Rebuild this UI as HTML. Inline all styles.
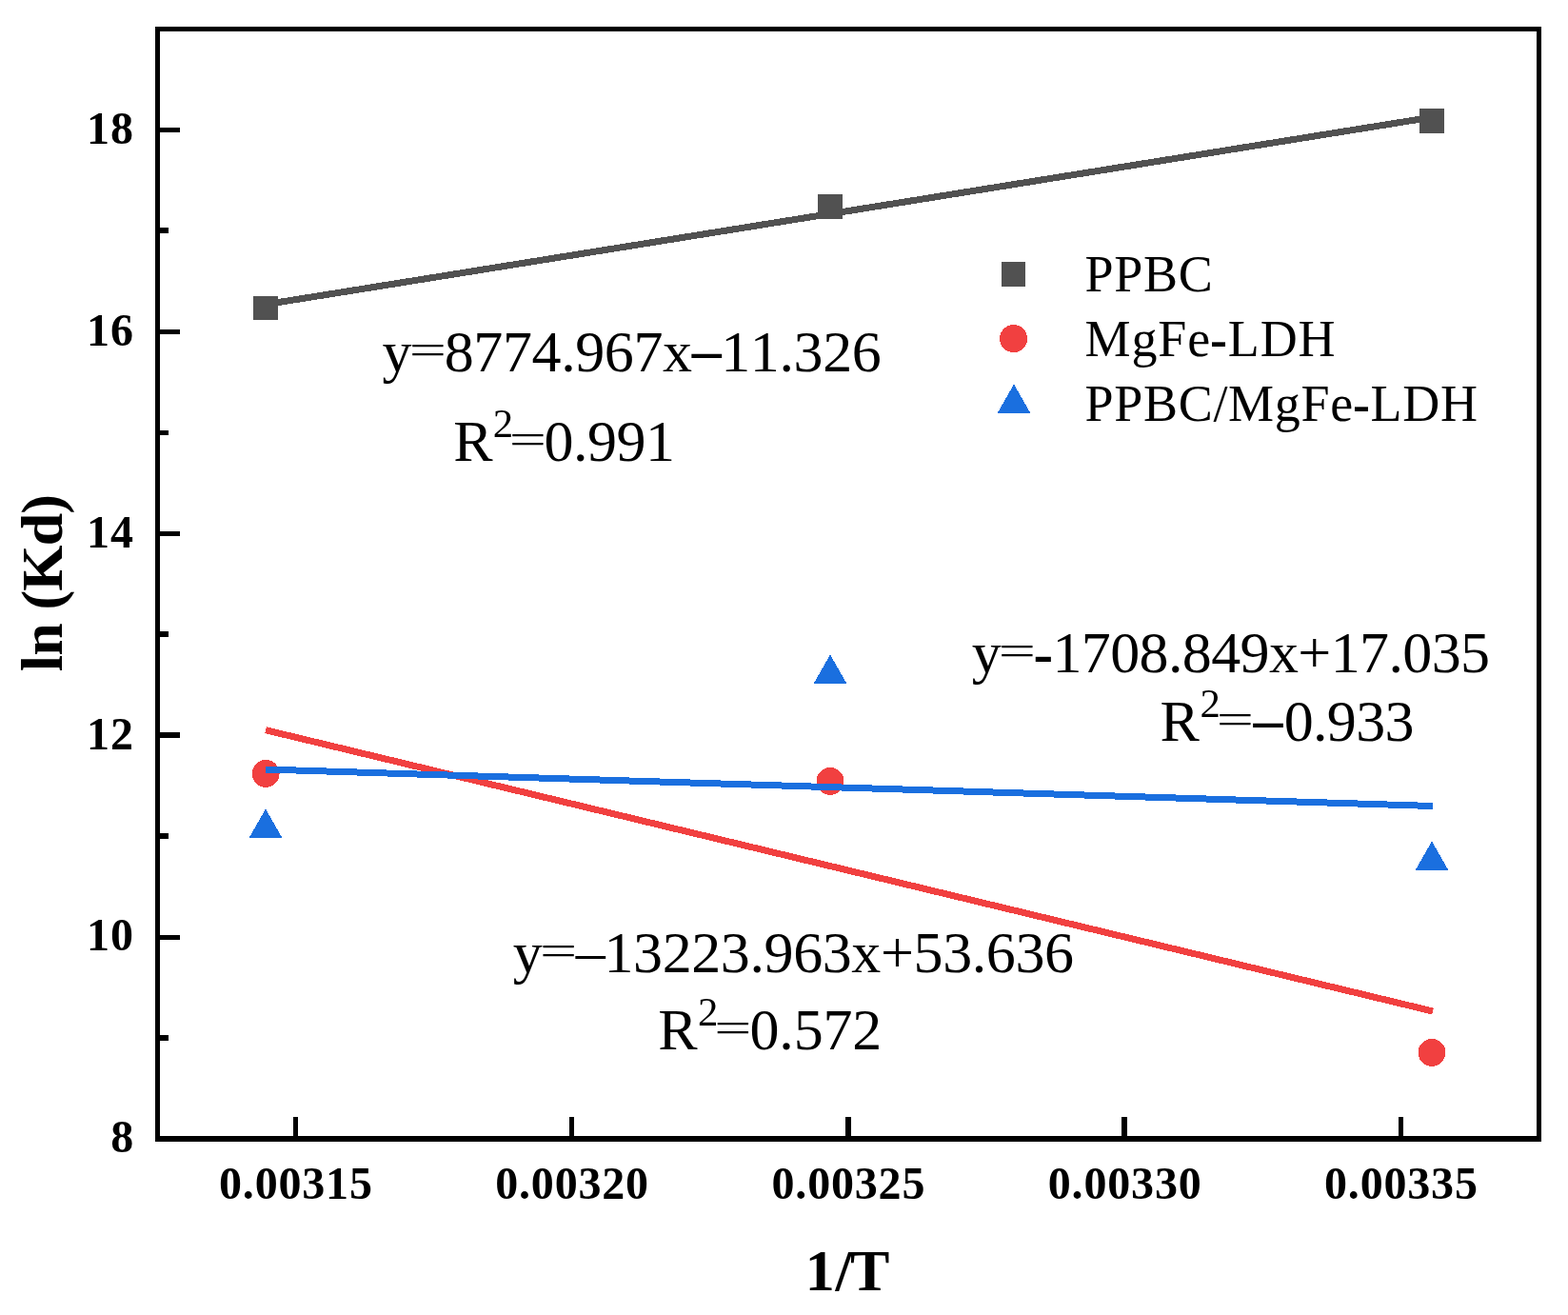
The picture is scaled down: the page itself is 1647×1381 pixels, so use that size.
<!DOCTYPE html>
<html lang="en">
<head>
<meta charset="utf-8">
<style>
html,body{margin:0;padding:0;background:#fff;}
body{width:1647px;height:1381px;overflow:hidden;}
svg{display:block;}
text{font-family:"Liberation Serif","Times New Roman",serif;fill:#000;font-kerning:none;font-variant-ligatures:none;}
.b{font-weight:bold;}
.tick{font-size:48px;font-weight:bold;}
.ann{font-size:62px;}
.leg{font-size:54px;}
.axl{font-size:62px;font-weight:bold;}
</style>
</head>
<body>
<svg width="1647" height="1381" viewBox="0 0 1647 1381">
<rect x="0" y="0" width="1647" height="1381" fill="#fff"/>

<g shape-rendering="crispEdges">
<rect x="266" y="311" width="26" height="25" fill="#515151"/>
<rect x="859" y="204" width="26" height="26" fill="#515151"/>
<rect x="1491" y="114" width="26" height="26" fill="#515151"/>
</g>
<g shape-rendering="crispEdges">
<circle cx="279.2" cy="812.4" r="14.4" fill="#f14040"/>
<circle cx="872" cy="820.4" r="14.4" fill="#f14040"/>
<circle cx="1504" cy="1105.4" r="14.4" fill="#f14040"/>
<polygon points="279,849.5 261.5,880 296.5,880" fill="#1a6fdf"/>
<polygon points="872,687.5 854.5,718 889.5,718" fill="#1a6fdf"/>
<polygon points="1504,883.5 1486.5,914 1521.5,914" fill="#1a6fdf"/>
<line x1="279" y1="319.7" x2="1504" y2="123.2" stroke="#515151" stroke-width="7"/>
<line x1="279" y1="766.7" x2="1505" y2="1062" stroke="#f14040" stroke-width="7"/>
<line x1="279" y1="808" x2="1505" y2="846.5" stroke="#1a6fdf" stroke-width="7"/>
</g>
<g fill="#000" shape-rendering="crispEdges">
<rect x="163" y="28" width="1456" height="5"/>
<rect x="163" y="1193" width="1456" height="6"/>
<rect x="163" y="28" width="5" height="1171"/>
<rect x="1614" y="28" width="5" height="1171"/>
<rect x="168" y="134" width="21" height="5"/>
<rect x="168" y="346" width="21" height="5"/>
<rect x="168" y="558" width="21" height="5"/>
<rect x="168" y="769" width="21" height="6"/>
<rect x="168" y="982" width="21" height="5"/>
<rect x="168" y="239" width="9" height="6"/>
<rect x="168" y="452" width="9" height="5"/>
<rect x="168" y="663" width="9" height="6"/>
<rect x="168" y="875" width="9" height="6"/>
<rect x="168" y="1087" width="9" height="6"/>
<rect x="308" y="1173" width="5" height="20"/>
<rect x="598" y="1173" width="5" height="20"/>
<rect x="888" y="1173" width="6" height="20"/>
<rect x="1178" y="1173" width="6" height="20"/>
<rect x="1469" y="1173" width="5" height="20"/>
</g>
<text class="tick" x="116.3" y="1210.1" letter-spacing="1">8</text>
<text class="tick" x="91.0" y="998.3" letter-spacing="1">10</text>
<text class="tick" x="91.0" y="786.5" letter-spacing="1">12</text>
<text class="tick" x="91.0" y="574.7" letter-spacing="1">14</text>
<text class="tick" x="91.0" y="362.9" letter-spacing="1">16</text>
<text class="tick" x="91.0" y="151.1" letter-spacing="1">18</text>
<text class="tick" x="230.0" y="1259.3" letter-spacing="0.82">0.00315</text>
<text class="tick" x="520.2" y="1259.3" letter-spacing="0.82">0.00320</text>
<text class="tick" x="810.5" y="1259.3" letter-spacing="0.82">0.00325</text>
<text class="tick" x="1100.8" y="1259.3" letter-spacing="0.82">0.00330</text>
<text class="tick" x="1391.0" y="1259.3" letter-spacing="0.82">0.00335</text>
<text class="axl" transform="translate(65,705.2) rotate(-90)" letter-spacing="-0.85">ln (Kd)</text>
<text class="axl" x="845.8 877.6 893" y="1355">1/T</text>
<rect x="1052" y="275" width="25" height="26" fill="#515151" shape-rendering="crispEdges"/>
<circle cx="1064.6" cy="355.6" r="14.5" fill="#f14040" shape-rendering="crispEdges"/>
<polygon points="1065,403.5 1047.5,434 1082.5,434" fill="#1a6fdf" shape-rendering="crispEdges"/>
<text class="leg" x="1139.50" y="306.1" letter-spacing="0.7"><tspan x="1139.50">PPBC</tspan></text>
<text class="leg" x="1139.50" y="373.9" letter-spacing="0.87"><tspan x="1139.50">MgFe</tspan><tspan x="1270.99" dy="1.00" class="b">-</tspan><tspan x="1289.85" dy="-1.00">LDH</tspan></text>
<text class="leg" x="1139.50" y="442.2" letter-spacing="0.7"><tspan x="1139.50">PPBC/MgFe</tspan><tspan x="1420.92" dy="1.00" class="b">-</tspan><tspan x="1439.60" dy="-1.00">LDH</tspan></text>
<text class="ann" x="401.60" y="389.7" letter-spacing="-0.4"><tspan x="401.60">y</tspan><tspan x="429.80" dy="-7.50" font-size="44" letter-spacing="0" textLength="39.2" lengthAdjust="spacingAndGlyphs">=</tspan><tspan x="466.77" dy="7.50">8774.967x</tspan><tspan x="726.67" dy="-1.40" class="b">–</tspan><tspan x="757.27" dy="1.40">11.326</tspan></text>
<text class="ann" x="476.20" y="483.9" letter-spacing="-0.5"><tspan x="476.20">R</tspan><tspan x="517.75" dy="-25.00" font-size="42.8">2</tspan><tspan x="534.65" dy="17.50" font-size="44" letter-spacing="0" textLength="39.2" lengthAdjust="spacingAndGlyphs">=</tspan><tspan x="571.52" dy="7.50">0.991</tspan></text>
<text class="ann" x="1020.70" y="705.6" letter-spacing="-0.62"><tspan x="1020.70">y</tspan><tspan x="1048.68" dy="-7.50" font-size="44" letter-spacing="0" textLength="39.2" lengthAdjust="spacingAndGlyphs">=</tspan><tspan x="1085.43" dy="8.90" class="b">-</tspan><tspan x="1105.45" dy="-1.40">1708.849x+17.035</tspan></text>
<text class="ann" x="1218.60" y="777.5" letter-spacing="-0.16"><tspan x="1218.60">R</tspan><tspan x="1260.49" dy="-25.00" font-size="42.8">2</tspan><tspan x="1277.73" dy="17.50" font-size="44" letter-spacing="0" textLength="39.2" lengthAdjust="spacingAndGlyphs">=</tspan><tspan x="1316.44" dy="6.10" class="b">–</tspan><tspan x="1348.78" dy="1.40" letter-spacing="-0.7">0.933</tspan></text>
<text class="ann" x="538.70" y="1020.7" letter-spacing="-0.4"><tspan x="538.70">y</tspan><tspan x="566.90" dy="-7.50" font-size="44" letter-spacing="0" textLength="39.2" lengthAdjust="spacingAndGlyphs">=</tspan><tspan x="604.67" dy="6.50">–</tspan><tspan x="634.47" dy="1.00">13223.963x+53.636</tspan></text>
<text class="ann" x="691.20" y="1101.5" letter-spacing="-0.17"><tspan x="691.20">R</tspan><tspan x="733.08" dy="-25.00" font-size="42.8">2</tspan><tspan x="750.31" dy="17.50" font-size="44" letter-spacing="0" textLength="39.2" lengthAdjust="spacingAndGlyphs">=</tspan><tspan x="787.51" dy="7.50">0.572</tspan></text>
</svg>
</body>
</html>
